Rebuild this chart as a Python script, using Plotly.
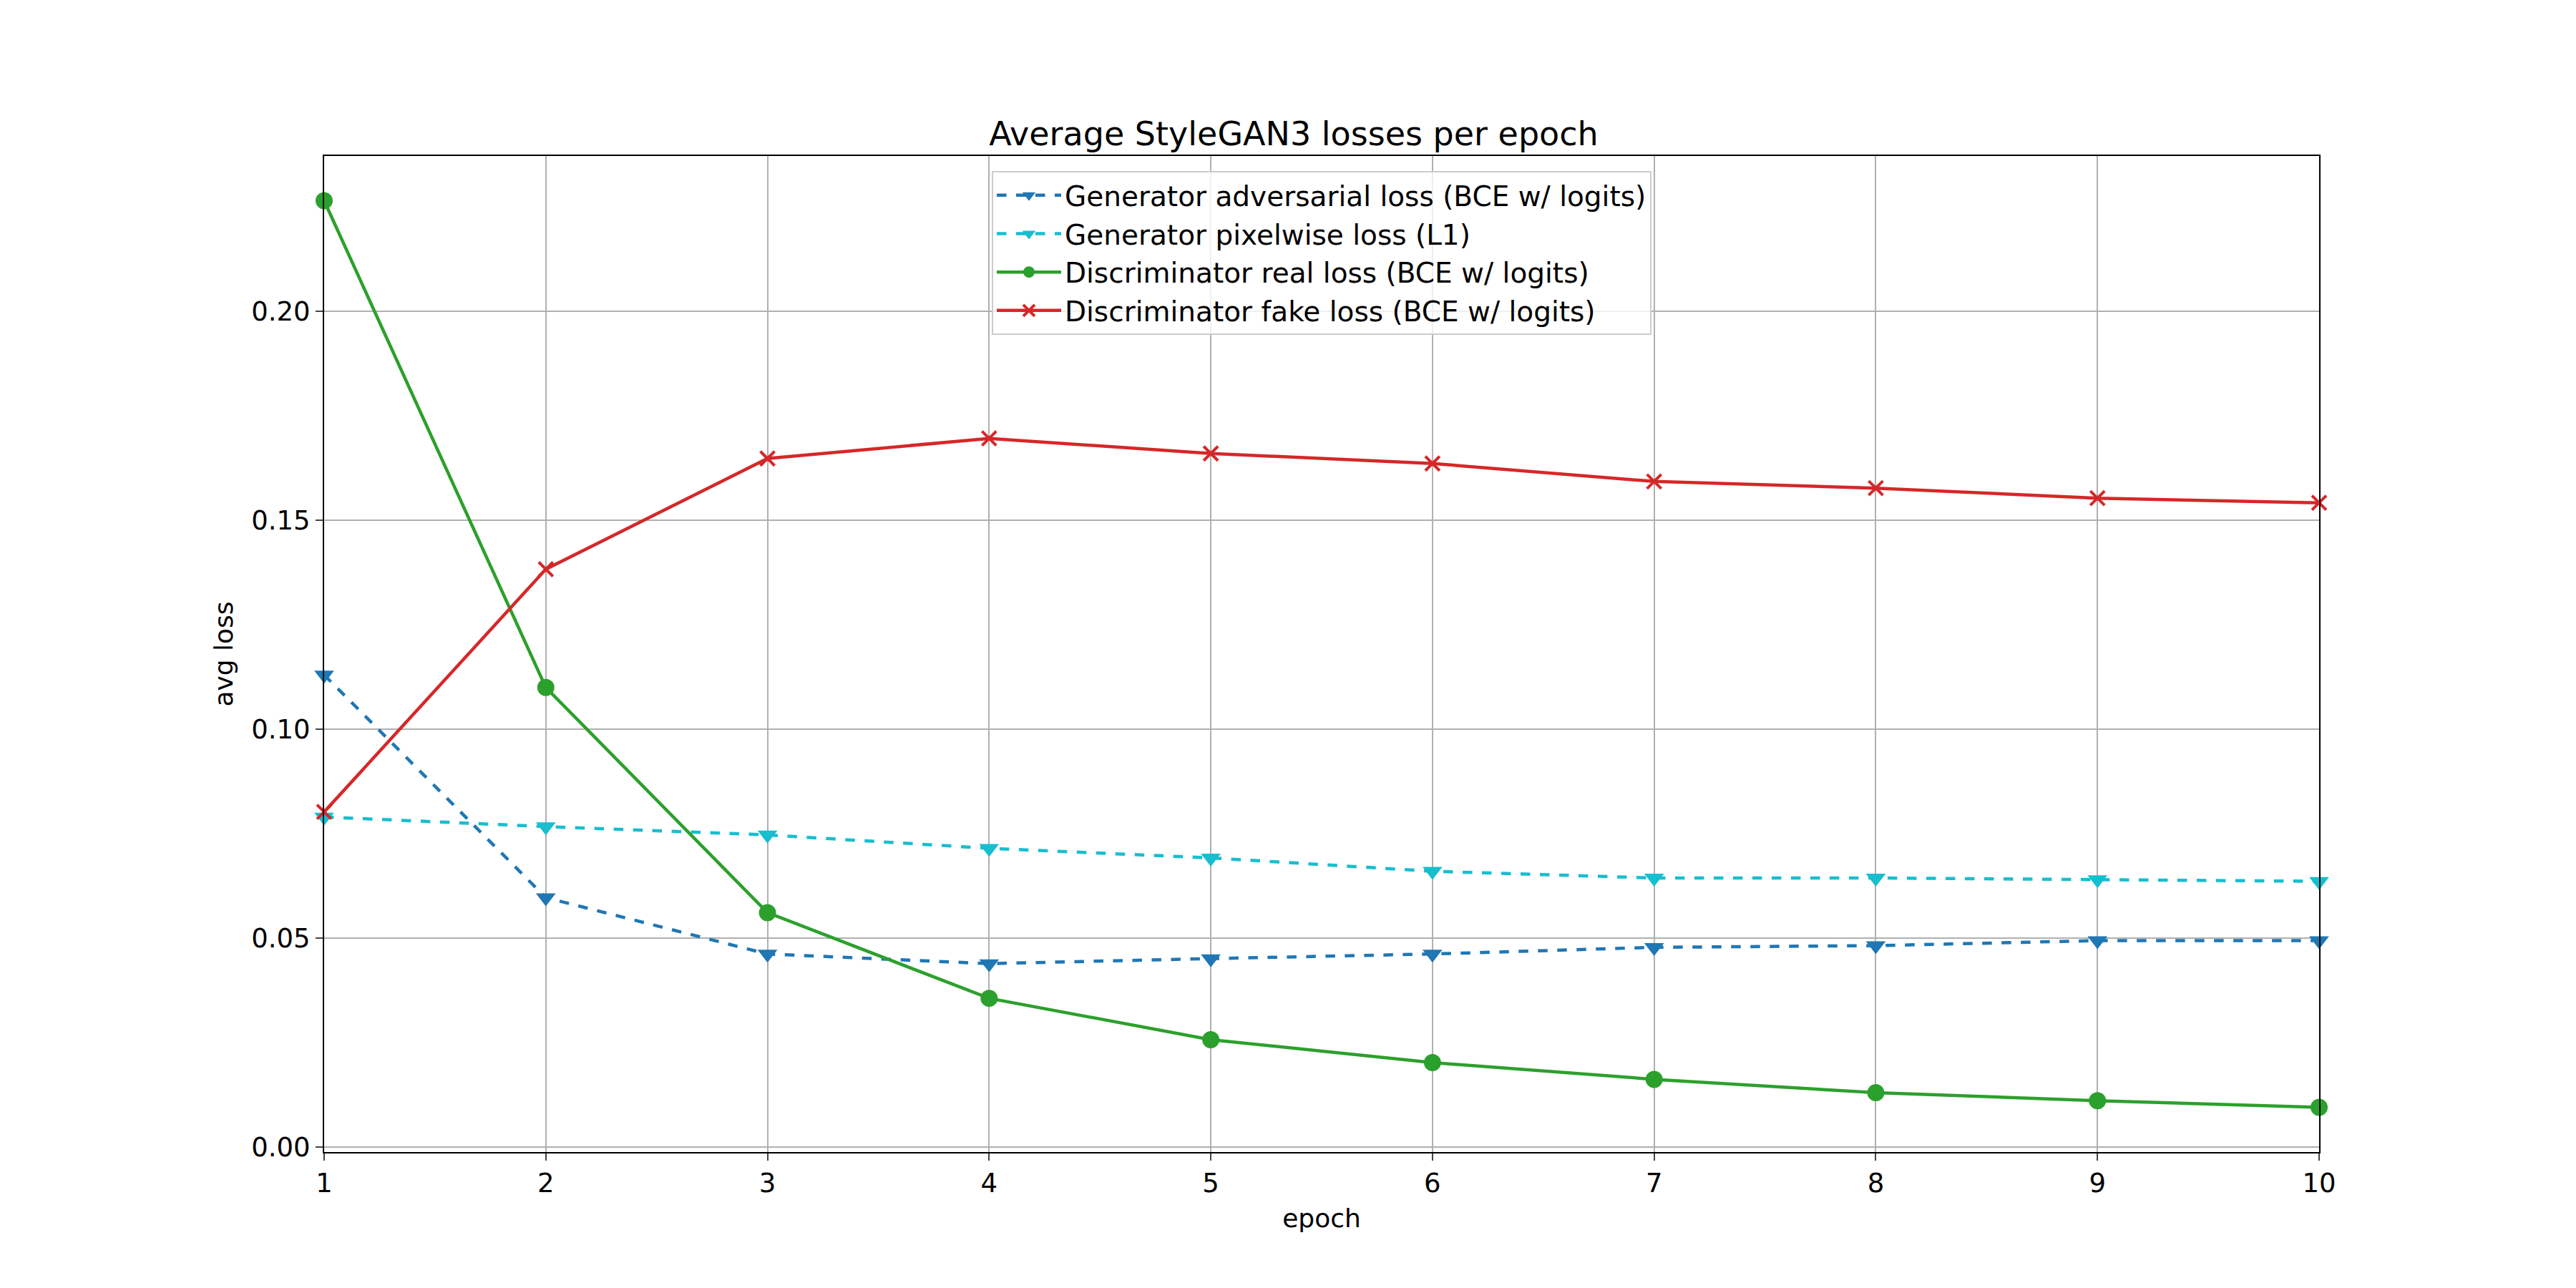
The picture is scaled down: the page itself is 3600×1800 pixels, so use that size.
import plotly.graph_objects as go

epochs = list(range(1, 11))
gen_adv = [0.113, 0.0597, 0.0462, 0.0439, 0.0451, 0.0462, 0.0478, 0.0482, 0.0494, 0.0494]
gen_pix = [0.079, 0.0767, 0.0747, 0.0715, 0.0692, 0.066, 0.0644, 0.0644, 0.064, 0.0636]
disc_real = [0.2265, 0.110, 0.0561, 0.0356, 0.0257, 0.0202, 0.0162, 0.013, 0.0111, 0.0095]
disc_fake = [0.0802, 0.1383, 0.1648, 0.1696, 0.166, 0.1636, 0.1593, 0.1577, 0.1553, 0.1542]

series = [
    ("Generator adversarial loss (BCE w/ logits)", gen_adv, "#1f77b4", "dash", "triangle-down"),
    ("Generator pixelwise loss (L1)", gen_pix, "#17becf", "dash", "triangle-down"),
    ("Discriminator real loss (BCE w/ logits)", disc_real, "#2ca02c", "solid", "circle"),
    ("Discriminator fake loss (BCE w/ logits)", disc_fake, "#d62728", "solid", "x-thin"),
]

fig = go.Figure()
for name, ys, color, dash, sym in series:
    fig.add_trace(go.Scatter(
        x=epochs, y=ys, name=name, mode="lines+markers",
        line=dict(color=color, width=4.5, dash=dash),
        marker=dict(symbol=sym, size=24 if sym != "x-thin" else 20, color=color,
                    line=dict(color=color, width=4 if sym == "x-thin" else 0)),
        cliponaxis=False,
    ))

font = "DejaVu Sans"
fig.update_layout(
    width=3600, height=1800,
    paper_bgcolor="white", plot_bgcolor="white",
    font=dict(family=font, size=36, color="black"),
    title=dict(text="Average StyleGAN3 losses per epoch", x=0.5, xanchor="center",
               y=1 - 195 / 1800, yanchor="bottom", font=dict(size=46)),
    margin=dict(l=445, r=3600 - 3233, t=210, b=1800 - 1602),
    legend=dict(x=0.5, xanchor="center", y=0.985, yanchor="top",
                bordercolor="#cccccc", borderwidth=2, bgcolor="rgba(255,255,255,0.8)",
                font=dict(size=39), itemwidth=90),
    showlegend=True,
)
fig.update_xaxes(range=[1, 10], tickvals=epochs, title=dict(text="epoch", standoff=15, font=dict(size=36)),
                 tickfont=dict(size=37),
                 showgrid=True, gridcolor="#b0b0b0", gridwidth=2,
                 showline=True, linecolor="black", linewidth=2, mirror=True,
                 ticks="outside", ticklen=10, tickwidth=2, zeroline=False)
fig.update_yaxes(range=[-0.0012, 0.2372], tickvals=[0, 0.05, 0.10, 0.15, 0.20],
                 tickformat=".2f", title=dict(text="avg loss", standoff=15, font=dict(size=36)),
                 tickfont=dict(size=37),
                 showgrid=True, gridcolor="#b0b0b0", gridwidth=2,
                 showline=True, linecolor="black", linewidth=2, mirror=True,
                 ticks="outside", ticklen=10, tickwidth=2, zeroline=False)

fig.write_html("out.html")
